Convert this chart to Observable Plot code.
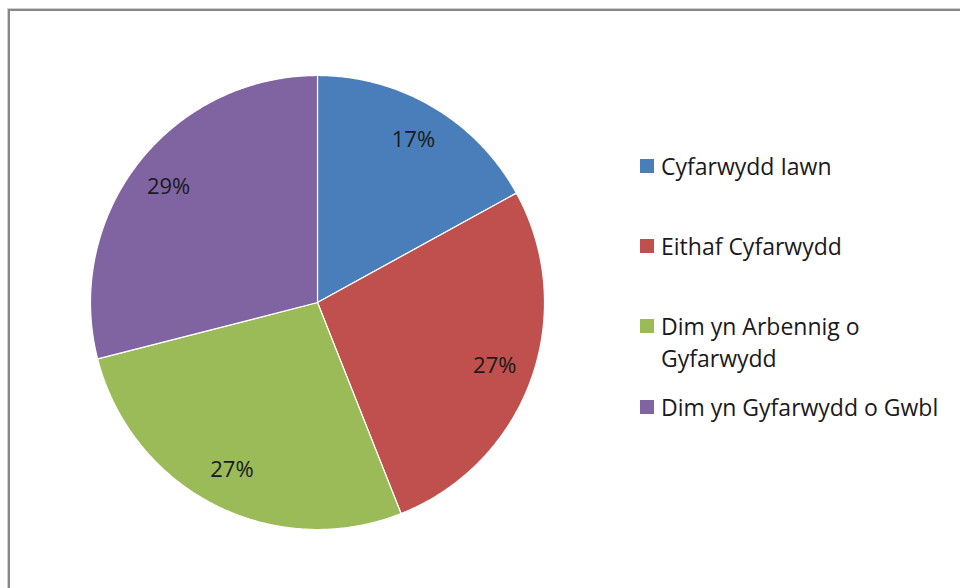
<!DOCTYPE html>
<html>
<head>
<meta charset="utf-8">
<script src="https://cdn.jsdelivr.net/npm/d3@7"></script>
<script src="https://cdn.jsdelivr.net/npm/@observablehq/plot@0.6"></script>
<style>
  html, body { margin: 0; padding: 0; background: #fff; }
  #wrap { position: relative; width: 960px; height: 588px; overflow: hidden; font-family: "Open Sans", Lato, sans-serif; }
  #frame { position: absolute; left: 8px; top: 9px; width: 1000px; height: 1000px; border-left: 2px solid #878787; border-top: 2px solid #878787; box-shadow: -1px -1px 0 #d0d0d0; }
  #chart { position: absolute; left: 0; top: 0; }
  .leg { position: absolute; left: 640px; font-size: 23px; color: #1a1a1a; line-height: 32px; }
  .leg .sw { position: absolute; left: 0; width: 14px; height: 14px; top: 9px; }
  .leg .tx { position: absolute; left: 21px; white-space: nowrap; }
</style>
</head>
<body>
<div id="wrap">
  <div id="frame"></div>
  <div id="chart"></div>
  <div id="legend"></div>
</div>
<script>
const categories = ["Cyfarwydd Iawn", "Eithaf Cyfarwydd", "Dim yn Arbennig o Gyfarwydd", "Dim yn Gyfarwydd o Gwbl"];
const legendLines = [["Cyfarwydd Iawn"], ["Eithaf Cyfarwydd"], ["Dim yn Arbennig o", "Gyfarwydd"], ["Dim yn Gyfarwydd o Gwbl"]];
const values = [17, 27, 27, 29];
const colors = ["#4A7EBB", "#C0504D", "#9BBB59", "#8064A2"];
const labels = ["17%", "27%", "27%", "29%"];

const data = categories.map((c, i) => ({category: c, value: values[i], label: labels[i]}));
const arcs = d3.pie().sort(null).value(d => d.value).startAngle(0).endAngle(2 * Math.PI)(data);

// polygon outline for each slice (unit circle, y up)
const slicePts = [];
arcs.forEach(a => {
  slicePts.push({category: a.data.category, x: 0, y: 0});
  const n = Math.max(2, Math.ceil((a.endAngle - a.startAngle) / (Math.PI / 360)));
  for (let k = 0; k <= n; k++) {
    const t = a.startAngle + (a.endAngle - a.startAngle) * k / n;
    slicePts.push({category: a.data.category, x: Math.sin(t), y: Math.cos(t)});
  }
  slicePts.push({category: a.data.category, x: 0, y: 0});
});
const labelR = 0.83;
const labelPts = arcs.map(a => {
  const m = (a.startAngle + a.endAngle) / 2;
  return {label: a.data.label, x: labelR * Math.sin(m), y: labelR * Math.cos(m)};
});

const plot = Plot.plot({
  width: 960,
  height: 588,
  margin: 0,
  style: {background: "transparent", overflow: "visible"},
  x: {domain: [-1, 1], range: [90, 544], axis: null},
  y: {domain: [-1, 1], range: [529, 75], axis: null},
  color: {domain: categories, range: colors},
  marks: [
    Plot.line(slicePts, {x: "x", y: "y", z: "category", fill: "category", stroke: "white", strokeWidth: 1.2, strokeLinejoin: "round", curve: "linear"}),
    Plot.text(labelPts, {x: "x", y: "y", text: "label", fontSize: 22, fill: "#1a1a1a", fontFamily: "'Open Sans', Lato, sans-serif"})
  ]
});
document.getElementById("chart").appendChild(plot);

const legendTops = [150, 230, 310, 391];
const legend = document.getElementById("legend");
legendLines.forEach((lines, i) => {
  const row = document.createElement("div");
  row.className = "leg";
  row.style.top = legendTops[i] + "px";
  const sw = document.createElement("div");
  sw.className = "sw";
  sw.style.background = colors[i];
  row.appendChild(sw);
  const tx = document.createElement("div");
  tx.className = "tx";
  tx.innerHTML = lines.join("<br>");
  row.appendChild(tx);
  legend.appendChild(row);
});
</script>
</body>
</html>
